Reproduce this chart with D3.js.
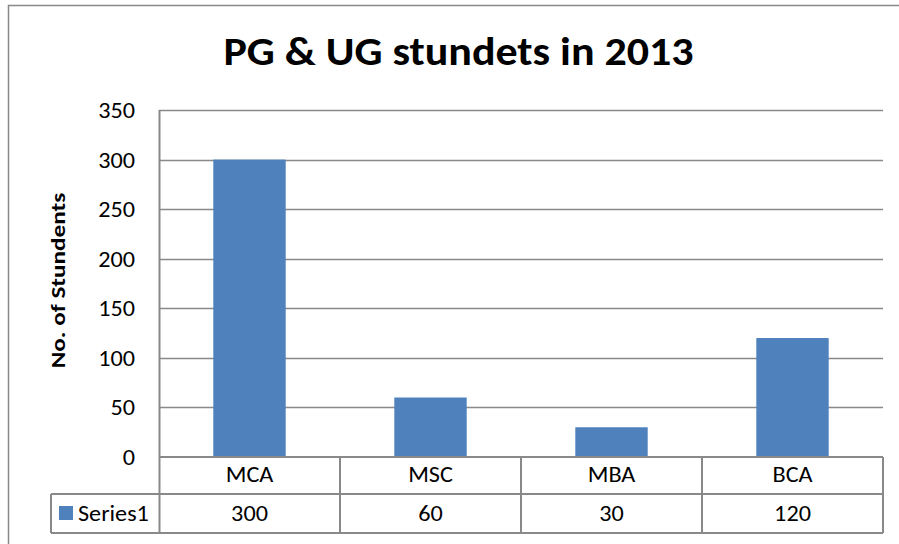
<!DOCTYPE html>
<html>
<head>
<meta charset="utf-8">
<script src="https://cdn.jsdelivr.net/npm/d3@7"></script>
<style>
  body { margin: 0; background: #fff; }
  svg { font-family: Carlito, Lato, "Open Sans", sans-serif; }
</style>
</head>
<body>
<svg width="899" height="544"></svg>
<script>
var categories = ["MCA", "MSC", "MBA", "BCA"];
var values = [300, 60, 30, 120];
var seriesName = "Series1";
var yTicks = [0, 50, 100, 150, 200, 250, 300, 350];

var svg = d3.select("svg");
var margin = {left: 159, right: 16, top: 110, bottom: 87};
var width = 899, height = 544;
var plotW = width - margin.left - margin.right;   // 724
var plotH = height - margin.top - margin.bottom;  // 347
var rowH = 38;
var gray = "#898989";
var sx = 1.1;   // slight widening so Lato matches the Calibri widths

// outer chart frame
svg.append("rect")
    .attr("x", 8.5).attr("y", 5.5)
    .attr("width", 900).attr("height", 560)
    .attr("fill", "none").attr("stroke", gray).attr("stroke-width", 1.5);

var x = d3.scaleBand().domain(categories).range([margin.left, margin.left + plotW])
    .paddingInner(0.6).paddingOuter(0.3);
var xCell = d3.scaleBand().domain(categories).range([margin.left, margin.left + plotW]);
var y = d3.scaleLinear().domain([0, 350]).range([margin.top + plotH, margin.top]);

function label(g, tx, ty, txt, size, anchor, scale) {
  return g.append("text")
      .attr("transform", "translate(" + tx + "," + ty + ") scale(" + (scale || sx) + ",1)")
      .attr("text-anchor", anchor || "middle")
      .attr("font-size", size)
      .text(txt);
}

// title
label(svg, 458.5, 65, "PG & UG stundets in 2013", 40, "middle", 1.1)
    .attr("font-weight", "bold");

// y axis title
svg.append("text")
    .attr("transform", "translate(65," + 280.5 + ") rotate(-90) scale(1.2,1)")
    .attr("text-anchor", "middle")
    .attr("font-size", 21).attr("font-weight", "bold")
    .text("No. of Stundents");

// gridlines
svg.append("g").selectAll("line")
    .data(yTicks.filter(function(d) { return d > 0; }))
    .enter().append("line")
    .attr("x1", margin.left).attr("x2", margin.left + plotW)
    .attr("y1", function(d) { return Math.round(y(d)) + 0.5; })
    .attr("y2", function(d) { return Math.round(y(d)) + 0.5; })
    .attr("stroke", gray).attr("stroke-width", 1.5);

// y tick labels
svg.append("g").selectAll("text")
    .data(yTicks)
    .enter().append("text")
    .attr("transform", function(d) { return "translate(135," + (y(d) + 8) + ") scale(" + sx + ",1)"; })
    .attr("text-anchor", "end")
    .attr("font-size", 22)
    .text(function(d) { return d; });

// bars
svg.append("g").selectAll("rect")
    .data(values)
    .enter().append("rect")
    .attr("x", function(d, i) { return x(categories[i]); })
    .attr("width", x.bandwidth())
    .attr("y", function(d) { return y(d); })
    .attr("height", function(d) { return y(0) - y(d); })
    .attr("fill", "#4F81BD");

// axis line (left)
var y0 = margin.top + plotH;
svg.append("line")
    .attr("x1", margin.left + 0.5).attr("x2", margin.left + 0.5)
    .attr("y1", margin.top).attr("y2", y0 + 2 * rowH)
    .attr("stroke", gray).attr("stroke-width", 2);

// data table
var table = svg.append("g").attr("stroke", gray).attr("stroke-width", 2).attr("fill", "none");
var tLeft = 51, tRight = margin.left + plotW;
table.append("line").attr("x1", margin.left).attr("x2", tRight).attr("y1", y0).attr("y2", y0);
table.append("line").attr("x1", tLeft).attr("x2", tRight).attr("y1", y0 + rowH - 1).attr("y2", y0 + rowH - 1);
table.append("line").attr("x1", tLeft).attr("x2", tRight).attr("y1", y0 + 2 * rowH).attr("y2", y0 + 2 * rowH);
table.append("line").attr("x1", tLeft).attr("x2", tLeft).attr("y1", y0 + rowH - 1).attr("y2", y0 + 2 * rowH);
table.selectAll(".vdiv")
    .data(categories)
    .enter().append("line")
    .attr("x1", function(d) { return xCell(d) + xCell.bandwidth(); })
    .attr("x2", function(d) { return xCell(d) + xCell.bandwidth(); })
    .attr("y1", y0).attr("y2", y0 + 2 * rowH);

// category labels
var catG = svg.append("g");
categories.forEach(function(c) {
  label(catG, xCell(c) + xCell.bandwidth() / 2, y0 + 25, c, 22);
});

// values row
var valG = svg.append("g");
values.forEach(function(v, i) {
  label(valG, xCell(categories[i]) + xCell.bandwidth() / 2, y0 + 64, v, 22);
});

// legend key
svg.append("rect")
    .attr("x", 59).attr("y", y0 + 49)
    .attr("width", 14).attr("height", 14)
    .attr("fill", "#4F81BD");
label(svg, 78, y0 + 64, seriesName, 22, "start");
</script>
</body>
</html>
